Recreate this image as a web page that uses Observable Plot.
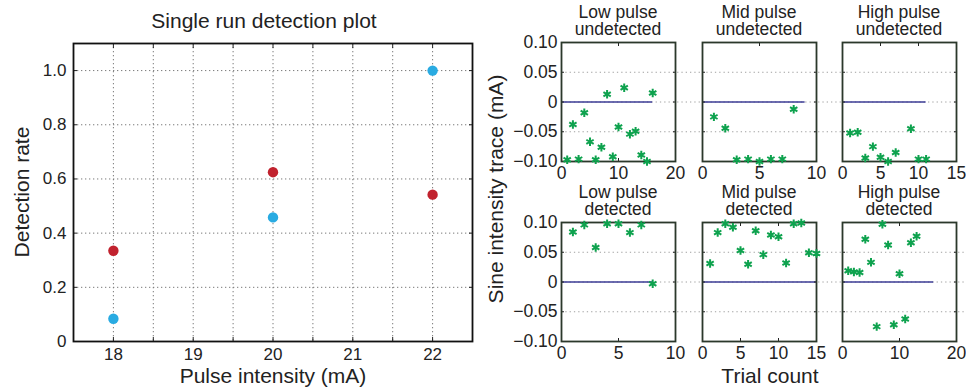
<!DOCTYPE html>
<html><head><meta charset="utf-8">
<script src="https://cdn.jsdelivr.net/npm/d3@7"></script>
<script src="https://cdn.jsdelivr.net/npm/@observablehq/plot@0.6"></script>
<style>
body{margin:0;background:#fff;}
#root{position:relative;width:966px;height:387px;overflow:hidden;font-family:"Liberation Sans",Arial,sans-serif;color:#222;background:#fff;}
.lbl{position:absolute;white-space:nowrap;line-height:1;transform:translate(-50%,-50%);text-align:center;}
.rot{transform:translate(-50%,-50%) rotate(-90deg);}
</style></head><body><div id="root"></div>
<script>
// ---- Left chart data ----
const intensities = [18, 20, 22];
const rateRed = [0.335, 0.625, 0.542];
const rateBlue = [0.084, 0.458, 1.0];
const leftXTicks = [18, 19, 20, 21, 22];
const leftXLabels = ["18", "19", "20", "21", "22"];
const leftXGrid = [18, 18.5, 19, 19.5, 20, 20.5, 21, 21.5, 22];
const leftYTicks = [0, 0.2, 0.4, 0.6, 0.8, 1.0];
const leftYLabels = ["0", "0.2", "0.4", "0.6", "0.8", "1.0"];

// ---- Right panels data (trial 1..n; null = off-chart) ----
const lowUndetected = [-0.097, -0.038, -0.096, -0.018, -0.067, -0.097, -0.076, 0.013, -0.092, -0.042, 0.024, -0.054, -0.049, -0.089, -0.100, 0.015];
const midUndetected = [-0.025, -0.044, -0.097, -0.096, -0.100, -0.096, -0.096, -0.012, null];
const highUndetected = [-0.052, -0.051, -0.094, -0.075, -0.093, -0.100, -0.085, null, -0.045, -0.096, -0.096];
const lowDetected = [0.084, 0.096, 0.058, 0.098, 0.098, 0.083, 0.096, -0.003];
const midDetected = [0.031, 0.083, 0.098, 0.092, 0.053, 0.030, 0.086, 0.046, 0.079, 0.076, 0.032, 0.098, 0.099, 0.049, 0.048];
const highDetected = [0.019, 0.017, 0.016, 0.072, 0.033, -0.075, 0.097, 0.062, -0.072, 0.014, -0.062, 0.066, 0.077, null, null, null];

const panelSeries = [lowUndetected, midUndetected, highUndetected, lowDetected, midDetected, highDetected];
const panelTitles = ["Low pulse\nundetected", "Mid pulse\nundetected", "High pulse\nundetected", "Low pulse\ndetected", "Mid pulse\ndetected", "High pulse\ndetected"];
const panelXMax = [20, 10, 15, 10, 15, 20];
const panelXTicks = [[0, 10, 20], [0, 5, 10], [0, 5, 10, 15], [0, 5, 10], [0, 5, 10, 15], [0, 10, 20]];
const panelYTicks = [-0.1, -0.05, 0, 0.05, 0.1];
const panelYLabels = ["\u22120.10", "\u22120.05", "0", "0.05", "0.10"];
const panelGrid = [-0.05, 0, 0.05];

const FONT = '"Liberation Sans", Arial, sans-serif';
const root = document.getElementById("root");

function place(el, left, top) {
  el.style.position = "absolute";
  el.style.left = left + "px";
  el.style.top = top + "px";
  el.style.maxWidth = "none";
  root.appendChild(el);
}
function label(text, x, y, size, rot) {
  const d = document.createElement("div");
  d.className = "lbl" + (rot ? " rot" : "");
  d.style.left = x + "px"; d.style.top = y + "px";
  d.style.fontSize = size + "px";
  d.textContent = text;
  root.appendChild(d);
  return d;
}
const blank = () => "";

// ---- Left chart ----
const leftData = intensities.flatMap((x, i) => [
  {x, y: rateBlue[i], s: "series A"},
  {x, y: rateRed[i], s: "series B"}
]);
const left = Plot.plot({
  width: 480, height: 387,
  marginLeft: 73, marginRight: 8, marginTop: 43, marginBottom: 46,
  style: {background: "transparent", fontSize: "17px", fontFamily: FONT, color: "#222", overflow: "visible"},
  x: {domain: [17.5, 22.5]},
  y: {domain: [0, 1.1]},
  color: {type: "ordinal", domain: ["series A", "series B"], range: ["#29abe2", "#c1222e"]},
  marks: [
    Plot.gridX({ticks: leftXGrid, stroke: "#7a7a7a", strokeOpacity: 1, strokeDasharray: "1.3,2.7"}),
    Plot.gridY({ticks: leftYTicks.slice(1), stroke: "#7a7a7a", strokeOpacity: 1, strokeDasharray: "1.3,2.7"}),
    Plot.axisX({ticks: leftXTicks, tickSize: 0, tickPadding: 6, tickFormat: d => leftXLabels[leftXTicks.indexOf(d)], label: null}),
    Plot.axisX({ticks: leftXGrid, tickSize: -4, tickFormat: blank, label: null}),
    Plot.axisX({ticks: leftXGrid, anchor: "top", tickSize: -4, tickFormat: blank, label: null}),
    Plot.axisY({ticks: leftYTicks, tickSize: 0, tickPadding: 7, tickFormat: d => leftYLabels[leftYTicks.indexOf(d)], label: null}),
    Plot.axisY({ticks: leftYTicks, tickSize: -4, tickFormat: blank, label: null}),
    Plot.axisY({ticks: leftYTicks, anchor: "right", tickSize: -4, tickFormat: blank, label: null}),
    Plot.frame({stroke: "#111", strokeWidth: 1.8}),
    Plot.dot(leftData, {x: "x", y: "y", fill: "s", r: 5.2})
  ]
});
place(left, 0, 0);
label("Single run detection plot", 264, 20, 21);
label("Detection rate", 21, 192, 21, true);
label("Pulse intensity (mA)", 273, 375, 21);

// ---- Right panels ----
const colLeft = [561, 702, 842];
const rowTop = [42, 222];
const PW = 114, PH = 119;
const ML = 50, MR = 14, MT = 4, MB = 26;
panelSeries.forEach((vals, i) => {
  const col = i % 3, row = Math.floor(i / 3);
  const pts = vals.map((v, k) => ({t: k + 1, v})).filter(d => d.v != null);
  const ext = col < 2 ? -(colLeft[col + 1] - colLeft[col] - PW) : (row === 1 ? -10 : 0);
  const marks = [
    Plot.ruleY(panelGrid, {stroke: "#a0a0a0", strokeDasharray: "1.3,3", insetRight: ext}),
    Plot.ruleY([0], {x1: 0, x2: vals.length, stroke: "#3c3c96", strokeWidth: 1.5}),
    Plot.axisX({ticks: panelXTicks[i], tickSize: 0, tickPadding: 5, tickFormat: d => String(d), label: null}),
    Plot.axisX({ticks: panelXTicks[i], tickSize: -3, tickFormat: blank, label: null}),
    Plot.axisX({ticks: panelXTicks[i], anchor: "top", tickSize: -3, tickFormat: blank, label: null}),
    Plot.axisY({ticks: panelYTicks, tickSize: -3, tickFormat: blank, label: null}),
    Plot.axisY({ticks: panelYTicks, anchor: "right", tickSize: -3, tickFormat: blank, label: null}),
    Plot.frame({stroke: "#2b382b", strokeWidth: 1.8}),
    Plot.dot(pts, {x: "t", y: "v", symbol: "asterisk", r: 4, stroke: "#0ea24e", strokeWidth: 2})
  ];
  if (col === 0) {
    marks.push(Plot.axisY({ticks: panelYTicks, tickSize: 0, tickPadding: 4, tickFormat: d => panelYLabels[panelYTicks.indexOf(d)], label: null}));
  }
  const p = Plot.plot({
    width: ML + PW + MR, height: MT + PH + MB,
    marginLeft: ML, marginRight: MR, marginTop: MT, marginBottom: MB,
    style: {background: "transparent", fontSize: "17.5px", fontFamily: FONT, color: "#222", overflow: "visible"},
    x: {domain: [0, panelXMax[i]]},
    y: {domain: [-0.1, 0.1]},
    marks
  });
  place(p, colLeft[col] - ML, rowTop[row] - MT);
  const t = label("", colLeft[col] + PW / 2, rowTop[row] - 21, 17.5);
  t.style.lineHeight = "16.6px";
  t.style.whiteSpace = "pre";
  t.textContent = panelTitles[i];
});
label("Sine intensity trace (mA)", 495, 189, 21, true);
label("Trial count", 770, 375, 21);
</script></body></html>
